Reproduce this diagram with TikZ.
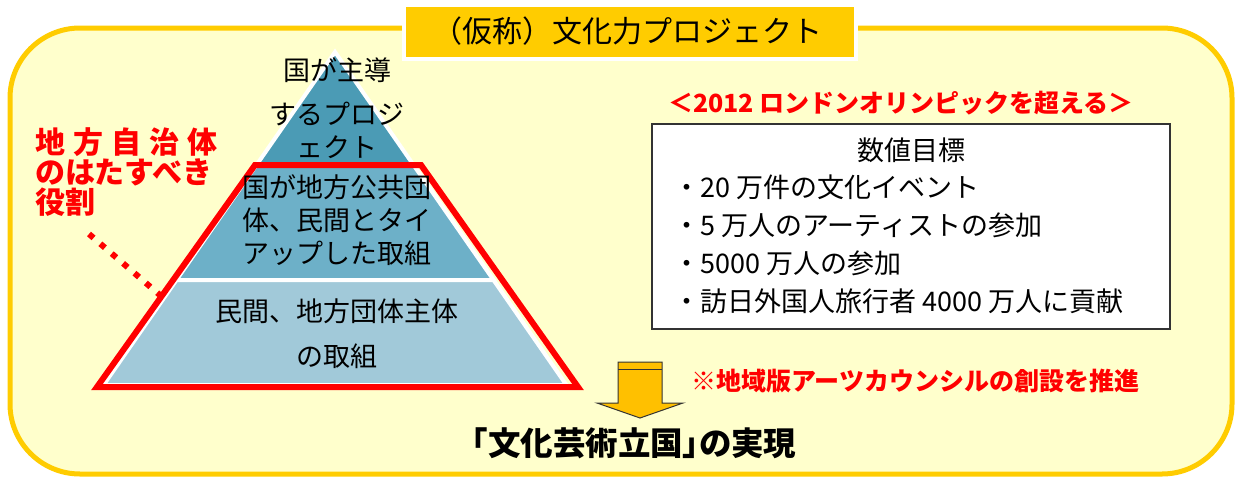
\documentclass[tikz,border=0pt]{standalone}
\usepackage{fontspec}
\setmainfont{Noto Sans CJK JP}
\definecolor{frameyellow}{HTML}{FFCC00}
\definecolor{paleyellow}{HTML}{FFFFCC}
\definecolor{arrowyellow}{HTML}{FFC000}
\definecolor{pyrtop}{HTML}{4B9BB5}
\definecolor{pyrmid}{HTML}{6DB0C8}
\definecolor{pyrbase}{HTML}{A1C9D9}
\tikzset{
  pyrtext/.style={align=center, inner sep=0pt, font=\fontsize{27}{33}\selectfont},
  layer/.style={draw=white, line width=4pt, line join=miter},
  redtext/.style={text=red, inner sep=0pt, font=\bfseries\fontsize{25}{30}\selectfont},
  goaltext/.style={inner sep=0pt, font=\fontsize{27}{38}\selectfont},
}
\begin{document}
\begin{tikzpicture}[x=1pt,y=-1pt]
		\useasboundingbox (0,0) rectangle (1239,479);

		% frame and title
		\draw[line width=5pt, draw=frameyellow, fill=paleyellow, rounded corners=70pt] (10,28) rectangle (1232,474);
		\node[draw=white, line width=4pt, fill=frameyellow, minimum width=452pt, minimum height=54pt] (title) at (630,32) {};
		\node[inner sep=0pt, font=\fontsize{30}{30}\selectfont] (titletext) at (627,31) {（仮称）文化力プロジェクト};

		% pyramid
		\fill[pyrtop, layer] (335,52) -- (256.5,165) -- (413.5,165) -- cycle;
		\fill[pyrmid, layer] (256.5,165) -- (176.5,280) -- (493.5,280) -- (413.5,165) -- cycle;
		\fill[pyrbase, layer] (176.5,280) -- (103.6,385) -- (566.4,385) -- (493.5,280) -- cycle;
		\draw[red, line width=6pt, line join=miter] (255,165) -- (97,387) -- (578,387) -- (421,165) -- cycle;

		\node[pyrtext] (toptext) at (337,108) {国が主導\\[11pt]するプロジ\\ェクト};
		\node[pyrtext] (midtext) at (337,220) {国が地方公共団\\体、民間とタイ\\アップした取組};
		\node[pyrtext, font=\fontsize{27}{45}\selectfont] (basetext) at (337,334) {民間、地方団体主体\\の取組};

		% local government role
		\node[redtext, align=left, anchor=north west, font=\bfseries\fontsize{30}{30}\selectfont] (role) at (35,127)
			{地\hspace{8pt}方\hspace{8pt}自\hspace{8pt}治\hspace{8pt}体\\のはたすべき\\役割};
		\coordinate (rolestart) at (89,234);
		\coordinate (roleend) at (161,296);
		\draw[red, line width=6pt, dash pattern=on 6pt off 9pt] (rolestart) -- (roleend);

		% targets
		\node[redtext] (olympic) at (901,103) {＜2012 ロンドンオリンピックを超える＞};
		\node[draw=black!80, line width=1.5pt, fill=white, minimum width=518pt, minimum height=205pt] (goalbox) at (911,226.5) {};
		\node[goaltext] (goalhead) at (911,150) {数値目標};
		\node[goaltext, align=left, anchor=west] (goallist) at (673,244.5)
			{・20 万件の文化イベント\\・5 万人のアーティストの参加\\・5000 万人の参加\\・訪日外国人旅行者 4000 万人に貢献};

		% result
		\draw[black!80, fill=arrowyellow, line width=1pt, line join=miter] (618,362) -- (662,362) -- (662,403) -- (683,403) -- (640,418) -- (597,403) -- (618,403) -- cycle;
		\draw[black!80, line width=1pt] (618,369) -- (662,369);
		\node[redtext] (council) at (915,381) {※地域版アーツカウンシルの創設を推進};
		\node[inner sep=0pt, font=\bfseries\fontsize{32.5}{34}\selectfont\addfontfeature{RawFeature=+palt}] (goal) at (634,443) {「文化芸術立国」の実現};
	\end{tikzpicture}
\end{document}
